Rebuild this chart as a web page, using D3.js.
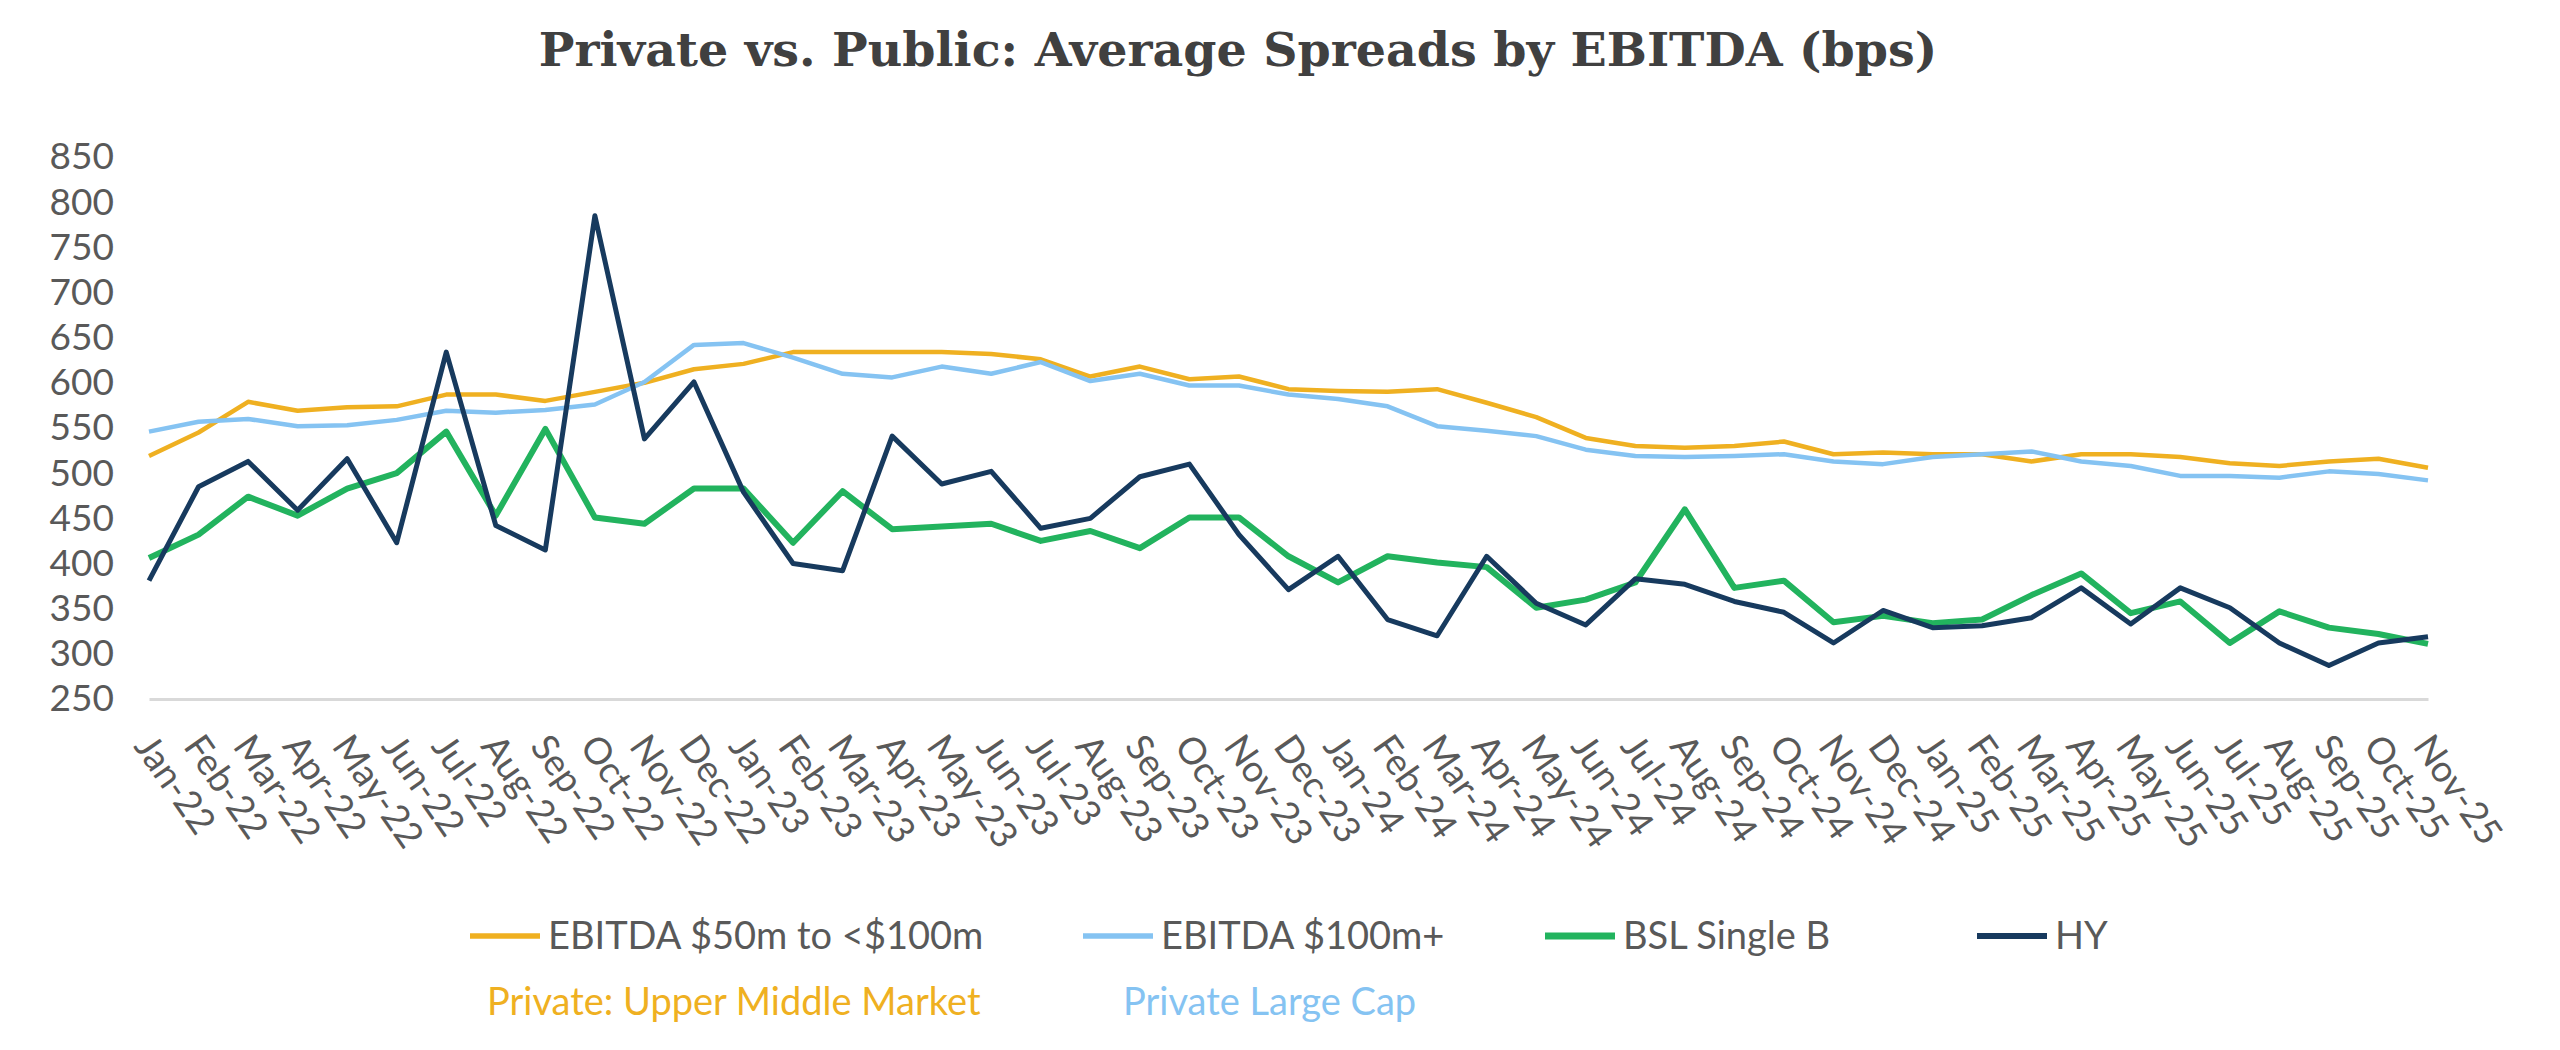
<!DOCTYPE html>
<html>
<head>
<meta charset="utf-8">
<script src="https://cdn.jsdelivr.net/npm/d3@7"></script>
<style>
  body { margin: 0; background: #fff; }
  .tick text { fill: #595959; font-family: Lato, "Open Sans", sans-serif; }
</style>
</head>
<body>
<div class="boundary"></div>
<script>
// months on the x axis
const months = ["Jan-22","Feb-22","Mar-22","Apr-22","May-22","Jun-22","Jul-22","Aug-22","Sep-22","Oct-22","Nov-22","Dec-22",
  "Jan-23","Feb-23","Mar-23","Apr-23","May-23","Jun-23","Jul-23","Aug-23","Sep-23","Oct-23","Nov-23","Dec-23",
  "Jan-24","Feb-24","Mar-24","Apr-24","May-24","Jun-24","Jul-24","Aug-24","Sep-24","Oct-24","Nov-24","Dec-24",
  "Jan-25","Feb-25","Mar-25","Apr-25","May-25","Jun-25","Jul-25","Aug-25","Sep-25","Oct-25","Nov-25"];

const ebitdaMid = [519,545,579,569,573,574,587,587,580,590,600,615,621,634,634,634,634,632,626,607,618,604,607,593,
  591,590,593,578,562,539,530,528,530,535,521,523,521,521,513,521,521,518,511,508,513,516,506];
const ebitdaLarge = [546,557,560,552,553,559,569,567,570,576,601,642,644,628,610,606,618,610,623,602,610,597,597,587,
  582,574,552,547,541,526,519,518,519,521,513,510,518,521,524,513,508,497,497,495,502,499,492];
const bslSingleB = [406,432,474,453,483,500,546,453,549,451,444,483,483,423,480,438,441,444,425,436,417,451,451,408,
  379,408,401,396,351,360,379,460,373,381,335,342,334,338,365,389,345,358,312,347,329,322,311];
const hy = [381,485,513,459,516,423,634,442,415,785,538,601,479,400,392,541,488,502,439,450,496,510,432,371,
  408,338,320,408,356,332,383,377,358,346,312,348,329,331,340,373,333,373,351,312,287,312,319];

const yTicks = [250,300,350,400,450,500,550,600,650,700,750,800,850];

const seriesNames = ["EBITDA $50m to <$100m","EBITDA $100m+","BSL Single B","HY"];
const seriesValues = [ebitdaMid, ebitdaLarge, bslSingleB, hy];
const colors = ["#EFB021","#85C3F2","#22B35E","#173A5E"];
const widths = [4.5, 4.5, 6, 5];
const subLabels = ["Private: Upper Middle Market","Private Large Cap"];

var width = 2560, height = 1050;
var svg = d3.select(".boundary").append("svg")
  .attr("width", width).attr("height", height)
  .style("background", "#fff");

svg.append("text")
  .attr("x", 1238).attr("y", 66)
  .attr("text-anchor", "middle")
  .style("font-family", "'DejaVu Serif', Georgia, serif")
  .style("font-weight", "bold")
  .style("font-size", "47.5px")
  .style("fill", "#404040")
  .text("Private vs. Public: Average Spreads by EBITDA (bps)");

var x = d3.scalePoint().domain(months).range([149, 2428]);
var y = d3.scaleLinear().domain([250, 850]).range([699, 157]);

var yAxis = svg.append("g").attr("transform", "translate(114,0)")
  .call(d3.axisLeft(y).tickValues(yTicks).tickSize(0).tickPadding(0));
yAxis.select(".domain").remove();
yAxis.selectAll("text").style("font-size", "37px");

var xAxis = svg.append("g").attr("transform", "translate(0,699)")
  .call(d3.axisBottom(x).tickSize(0));
xAxis.select(".domain").attr("stroke", "#d9d9d9").attr("stroke-width", 3);
xAxis.selectAll("text")
  .style("font-size", "37px")
  .attr("text-anchor", "start")
  .attr("y", 0).attr("dy", "0.35em")
  .attr("transform", "translate(-6,40) rotate(55)");

var line = d3.line().x(function(d, i) { return x(months[i]); }).y(function(d) { return y(d); });

svg.append("g").selectAll("path").data(seriesValues).enter().append("path")
  .attr("d", line)
  .attr("fill", "none")
  .attr("stroke", function(d, i) { return colors[i]; })
  .attr("stroke-width", function(d, i) { return widths[i]; })
  .attr("stroke-linejoin", "round");

// legend
var legendX = [470, 1083, 1545, 1977];
var legend = svg.append("g").selectAll("g").data(seriesNames).enter().append("g")
  .attr("transform", function(d, i) { return "translate(" + legendX[i] + ",936)"; });
legend.append("line").attr("x1", 0).attr("x2", 70).attr("y1", 0).attr("y2", 0)
  .attr("stroke", function(d, i) { return colors[i]; })
  .attr("stroke-width", function(d, i) { return widths[i] + 1; });
legend.append("text").text(function(d) { return d; })
  .attr("x", 78).attr("dy", "0.35em")
  .style("font-family", "Lato, 'Open Sans', sans-serif")
  .style("font-size", "38px")
  .style("fill", "#595959");

var subX = [487, 1123];
svg.append("g").selectAll("text").data(subLabels).enter().append("text")
  .attr("x", function(d, i) { return subX[i]; })
  .attr("y", 1002).attr("dy", "0.35em")
  .style("font-family", "Lato, 'Open Sans', sans-serif")
  .style("font-size", "38px")
  .style("fill", function(d, i) { return colors[i]; })
  .text(function(d) { return d; });
</script>
</body>
</html>
